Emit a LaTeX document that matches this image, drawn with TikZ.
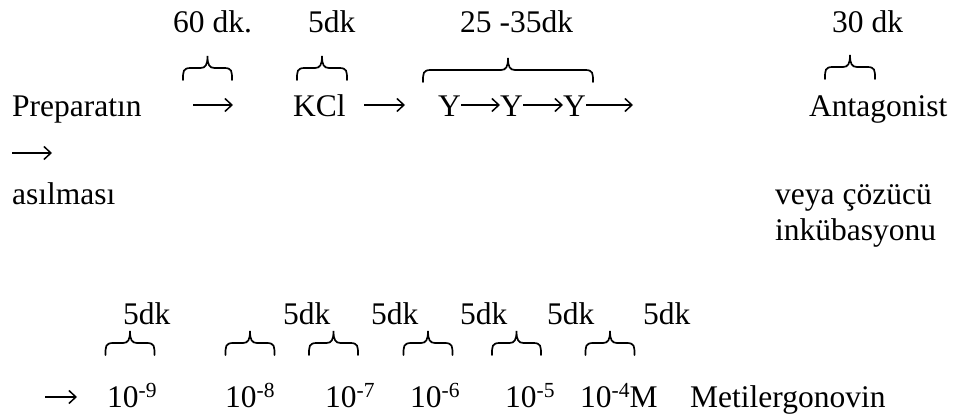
\documentclass[tikz,border=0pt]{standalone}
\usepackage{fontspec}
\setmainfont{Liberation Serif}
\usetikzlibrary{arrows.meta}
\newcommand\spx[1]{\raisebox{10.5pt}{\fontsize{21.5}{22}\selectfont #1}}
\begin{document}
\begin{tikzpicture}[x=1pt,y=-1pt,
  txt/.style={anchor=base west,inner sep=0pt,font=\fontsize{31.5}{36}\selectfont},
  arr/.style={line width=1.5pt,-{Straight Barb[length=7pt,width=13pt,line width=1.5pt]}},
  brc/.pic={\draw[line width=1.7pt,line cap=round]
     (-#1,12) .. controls (-#1,3) and (-#1,0) .. (-#1+8,0) -- (-7,0)
     .. controls (-2,0) and (0,-3) .. (0,-12)
     .. controls (0,-3) and (2,0) .. (7,0) -- (#1-8,0)
     .. controls (#1,0) and (#1,3) .. (#1,12);}]
\useasboundingbox (0,0) rectangle (954,419);
% row 1 labels
\node[txt] (t60) at (173,33) {60 dk.};
\node[txt] (t5a) at (308,33) {5dk};
\node[txt] (t25) at (460,33) {25 -35dk};
\node[txt] (t30) at (832,33) {30 dk};
% braces row 1
\pic at (207.5,68) {brc=24.5};
\pic at (322,68) {brc=25};
\pic at (508,70) {brc=85};
\pic at (850,67) {brc=25};
% row 2
\node[txt] (prep) at (12,117) {Preparatın};
\coordinate (a1s) at (193,105); \coordinate (a1e) at (233,105);
\draw[arr] (a1s) -- (a1e);
\node[txt] (kcl) at (293,117) {KCl};
\node[txt] (y1) at (438,117) {Y};
\node[txt] (y2) at (500,117) {Y};
\node[txt] (y3) at (563,117) {Y};
\coordinate (a2s) at (364,105); \coordinate (a2e) at (405,105);
\coordinate (a5e) at (633,105);
\draw[arr] (a2s) -- (a2e);
\draw[arr] (y1.east |- a1s) -- (y2.west |- a1s);
\draw[arr] (y2.east |- a1s) -- (y3.west |- a1s);
\draw[arr] (y3.east |- a1s) -- (a5e);
\node[txt] (ant) at (809,117) {Antagonist};
\coordinate (a6s) at (12,153); \coordinate (a6e) at (52,153);
\draw[arr] (a6s) -- (a6e);
\node[txt] (asil) at (12,205) {asılması};
\node[txt] (veya) at (775,205) {veya çözücü};
\node[txt] (inku) at (775,241) {inkübasyonu};
% row 3 labels
\foreach \x/\n in {123/a,283/b,371/c,460/d,547/e,643/f}
  \node[txt] (d\n) at (\x,325) {5dk};
\foreach \x in {130,250,333.5,428,516.5,610}
  \pic at (\x,343) {brc=24.5};
\coordinate (a7s) at (45,397); \coordinate (a7e) at (77,397);
\draw[arr] (a7s) -- (a7e);
\node[txt] (c9) at (107,408) {10\spx{-9}};
\node[txt] (c8) at (225,408) {10\spx{-8}};
\node[txt] (c7) at (325,408) {10\spx{-7}};
\node[txt] (c6) at (410,408) {10\spx{-6}};
\node[txt] (c5) at (505,408) {10\spx{-5}};
\node[txt] (c4) at (580,408) {10\spx{-4}M};
\node[txt] (met) at (690,408) {Metilergonovin};
\end{tikzpicture}
\end{document}
